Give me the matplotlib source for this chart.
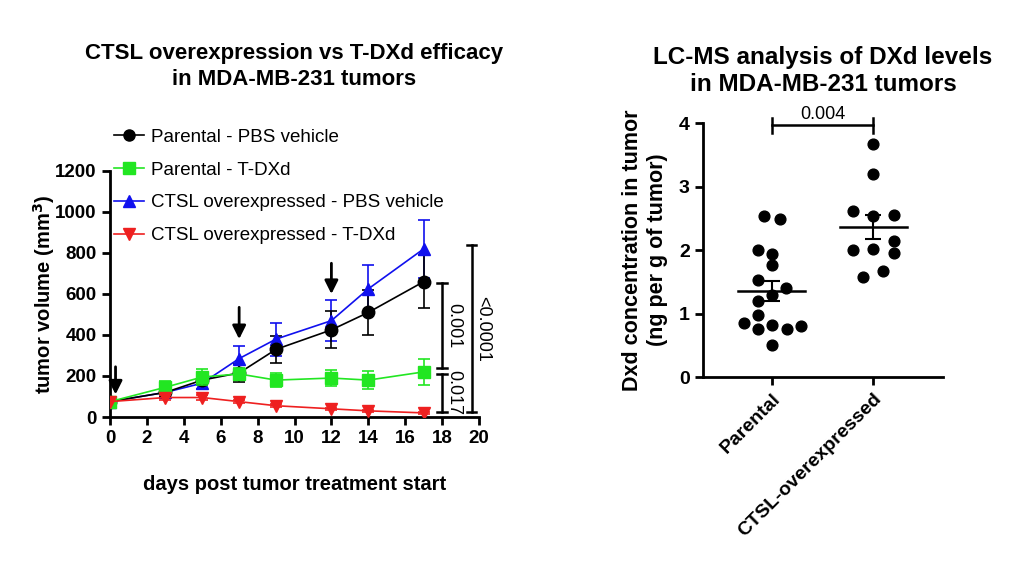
import matplotlib.pyplot as plt
from matplotlib.lines import Line2D
import numpy as np

plt.rcParams['font.family'] = ['Liberation Sans', 'DejaVu Sans']

# tumor growth data (mean, sem)
days = [0, 3, 5, 7, 9, 12, 14, 17]
par_pbs = [75, 120, 180, 215, 330, 425, 510, 660]
par_pbs_err = [10, 20, 25, 45, 65, 90, 110, 130]
par_tdxd = [75, 145, 195, 210, 180, 190, 180, 220]
par_tdxd_err = [10, 30, 40, 30, 35, 40, 45, 65]
ctsl_pbs = [75, 120, 165, 285, 380, 470, 625, 820]
ctsl_pbs_err = [10, 20, 30, 60, 80, 100, 115, 140]
ctsl_tdxd = [75, 95, 95, 75, 55, 40, 30, 20]
ctsl_tdxd_err = [8, 10, 10, 8, 6, 5, 5, 4]
dose_days = [0.3, 7, 12]
dose_tops = [245, 535, 750]
dose_tips = [110, 380, 600]

# LC-MS data
groups = ['Parental', 'CTSL-overexpressed']
parental = [2.53, 2.49, 2.0, 1.94, 1.77, 1.52, 1.40, 1.29, 1.19, 0.97,
            0.85, 0.76, 0.82, 0.75, 0.81, 0.51]
parental_dx = [-0.08, 0.08, -0.14, 0, 0, -0.14, 0.14, 0, -0.14, -0.14,
               -0.28, -0.14, 0, 0.15, 0.29, 0]
ctsl = [3.67, 3.19, 2.62, 2.54, 2.55, 2.0, 2.02, 2.14, 1.96, 1.58, 1.67]
ctsl_dx = [0, 0, -0.2, 0, 0.21, -0.2, 0, 0.21, 0.21, -0.1, 0.1]

fig = plt.figure(figsize=(10.24, 5.63), dpi=100)

# left panel
ax = fig.add_axes([110/1024, 1-417/563, 369/1024, 246/563])
series = [
    (par_pbs, par_pbs_err, 'black', 'o', 'Parental - PBS vehicle'),
    (par_tdxd, par_tdxd_err, '#22e622', 's', 'Parental - T-DXd'),
    (ctsl_pbs, ctsl_pbs_err, '#1010ee', '^', 'CTSL overexpressed - PBS vehicle'),
    (ctsl_tdxd, ctsl_tdxd_err, '#ee2020', 'v', 'CTSL overexpressed - T-DXd'),
]
order = [1, 3, 2, 0]
for i in order:
    y, e, c, m, lab = series[i]
    ax.errorbar(days, y, yerr=e, color=c, marker=m, markersize=9, lw=1.2,
                capsize=4, elinewidth=1.2, capthick=1.2, zorder=3 + i % 2)

for d, top, tip in zip(dose_days, dose_tops, dose_tips):
    ax.annotate('', xy=(d, tip), xytext=(d, top),
                arrowprops=dict(arrowstyle='-|>', color='black', lw=2,
                                mutation_scale=20, shrinkA=0, shrinkB=0))

def vbracket(x, y0, y1, w=0.25):
    ax.plot([x, x], [y0, y1], color='black', lw=1.8, clip_on=False)
    ax.plot([x - w, x + w], [y0, y0], color='black', lw=1.8, clip_on=False)
    ax.plot([x - w, x + w], [y1, y1], color='black', lw=1.8, clip_on=False)

vbracket(18.0, 237, 655)
vbracket(18.0, 25, 212)
vbracket(19.6, 25, 838)
ax.text(18.65, 446, '0.001', rotation=-90, ha='center', va='center', fontsize=13)
ax.text(18.65, 118, '0.017', rotation=-90, ha='center', va='center', fontsize=13)
ax.text(20.2, 430, '<0.0001', rotation=-90, ha='center', va='center', fontsize=13)

ax.set_xlim(0, 20)
ax.set_ylim(0, 1200)
ax.set_xticks(range(0, 21, 2))
ax.set_yticks(range(0, 1201, 200))
for s in ['top', 'right']:
    ax.spines[s].set_visible(False)
for s in ['left', 'bottom']:
    ax.spines[s].set_linewidth(2)
ax.tick_params(width=2, length=6, labelsize=13.5)
for t in ax.get_xticklabels() + ax.get_yticklabels():
    t.set_fontweight('bold')
ax.set_ylabel('tumor volume (mm$^\\mathbf{3}$)', fontsize=14.5, fontweight='bold', labelpad=-1)
ax.set_xlabel('days post tumor treatment start', fontsize=14.5, fontweight='bold', labelpad=20)
ax.set_title('CTSL overexpression vs T-DXd efficacy\nin MDA-MB-231 tumors',
             fontsize=16, fontweight='bold', pad=62, linespacing=1.3)

handles = [Line2D([], [], color=s[2], marker=s[3], markersize=8, lw=1.2) for s in series]
fig.legend(handles, [s[4] for s in series], loc='upper left',
           bbox_to_anchor=(97/1024, 1-112/563), frameon=False, fontsize=13.5,
           labelspacing=0.83, handlelength=1.6, handletextpad=0.4)

# right panel
ax2 = fig.add_axes([703/1024, 1-377/563, 240/1024, 254/563])
for k, (vals, dx) in enumerate([(parental, parental_dx), (ctsl, ctsl_dx)]):
    vals = np.array(vals)
    ax2.scatter(k + np.array(dx), vals, s=60, color='black', zorder=3)
    m = vals.mean()
    sem = vals.std(ddof=1) / np.sqrt(len(vals))
    ax2.plot([k - 0.33, k + 0.33], [m, m], color='black', lw=1.8)
    ax2.errorbar(k, m, yerr=sem, color='black', capsize=6, elinewidth=1.5, capthick=1.5)

ax2.plot([0, 1], [3.97, 3.97], color='black', lw=1.8, clip_on=False)
ax2.plot([0, 0], [3.85, 4.08], color='black', lw=1.8, clip_on=False)
ax2.plot([1, 1], [3.85, 4.08], color='black', lw=1.8, clip_on=False)
ax2.text(0.5, 4.0, '0.004', ha='center', va='bottom', fontsize=13)

ax2.set_xlim(-0.68, 1.69)
ax2.set_ylim(0, 4)
ax2.set_xticks([0, 1])
ax2.set_xticklabels(groups, rotation=45, ha='right', rotation_mode='anchor',
                    fontsize=14, fontweight='bold')
ax2.set_yticks(range(0, 5))
for t in ax2.get_yticklabels():
    t.set_fontweight('bold')
for s in ['top', 'right']:
    ax2.spines[s].set_visible(False)
for s in ['left', 'bottom']:
    ax2.spines[s].set_linewidth(2)
ax2.tick_params(width=2, length=6, labelsize=14)
ax2.set_ylabel('Dxd concentration in tumor\n(ng per g of tumor)', fontsize=15.5,
               fontweight='bold', labelpad=8, linespacing=1.25)
ax2.set_title('LC-MS analysis of DXd levels\nin MDA-MB-231 tumors',
              fontsize=17.5, fontweight='bold', pad=23)

fig.savefig('out.png', dpi=100)
